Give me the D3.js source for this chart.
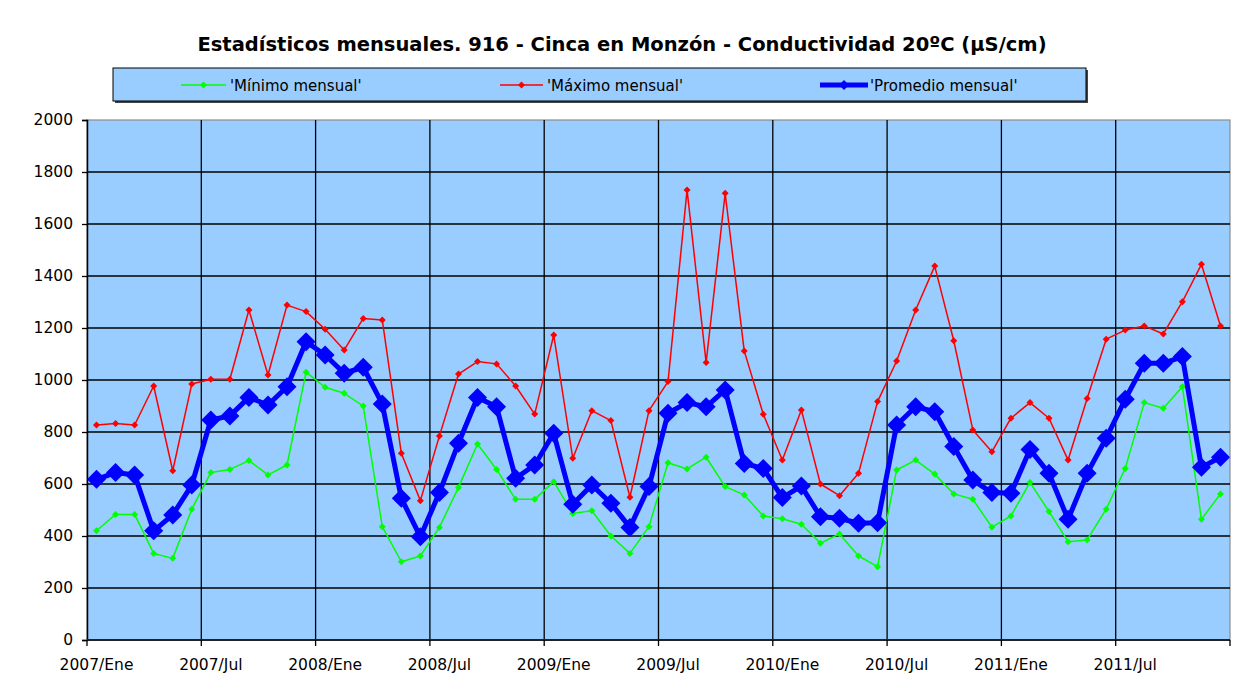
<!DOCTYPE html>
<html><head><meta charset="utf-8">
<script src="https://cdn.jsdelivr.net/npm/d3@7"></script>
<style>body{margin:0;background:#fff}svg{display:block}</style>
</head><body>
<svg id="c" width="1241" height="700"></svg>
<script>
const years = [2007, 2008, 2009, 2010, 2011];
const monthNames = ["Ene","Feb","Mar","Abr","May","Jun","Jul","Ago","Sep","Oct","Nov","Dic"];
const categories = years.flatMap(y => monthNames.map(m => y + "/" + m));

const minimo = [420,483,483,333,314,503,644,656,690,635,673,1030,
  972,949,900,436,301,323,433,587,754,656,541,541,
  609,487,497,400,333,436,682,658,703,590,558,477,
  466,445,372,408,323,282,654,692,638,562,541,434,
  477,606,494,378,385,503,660,913,891,974,464,562];
const maximo = [827,833,827,977,651,985,1003,1003,1269,1019,1288,1263,
  1195,1115,1237,1231,718,536,785,1023,1071,1062,977,869,
  1173,699,882,844,549,882,994,1731,1067,1718,1112,868,
  692,885,600,555,641,917,1073,1269,1438,1151,808,724,
  853,913,853,692,929,1157,1192,1208,1177,1301,1445,1208];
const promedio = [618,644,635,420,481,596,846,862,933,904,974,1147,
  1096,1026,1049,908,545,397,567,757,933,897,622,673,
  795,522,596,526,433,590,872,913,897,962,679,660,
  548,592,474,468,449,451,827,897,878,744,615,567,
  564,733,641,464,641,776,926,1064,1064,1090,664,703];
const yTicks = [0,200,400,600,800,1000,1200,1400,1600,1800,2000];
const seriesNames = ["'Mínimo mensual'", "'Máximo mensual'", "'Promedio mensual'"];
const title = "Estadísticos mensuales. 916 - Cinca en Monzón - Conductividad 20ºC (µS/cm)";

const svg = d3.select("#c");
const font = "'DejaVu Sans',sans-serif";
const L = 87, R = 1230, T = 120, B = 640;
const x = d3.scaleBand().domain(categories).range([L, R]).padding(0);
const y = d3.scaleLinear().domain([0, 2000]).range([B, T]);
const cx = d => x(d) + x.bandwidth() / 2;

// plot area
svg.append("rect").attr("x", L).attr("y", T).attr("width", R - L).attr("height", B - T)
  .attr("fill", "#99CCFF").attr("stroke", "#8c8c8c").attr("stroke-width", 1.2);

// horizontal gridlines
svg.append("g").selectAll("line").data(yTicks.filter(v => v > 0 && v < 2000)).join("line")
  .attr("x1", L).attr("x2", R).attr("y1", d => y(d)).attr("y2", d => y(d))
  .attr("stroke", "#000").attr("stroke-width", 1.3);

// vertical gridlines at 6 month boundaries
const sixIdx = d3.range(6, 60, 6);
svg.append("g").selectAll("line").data(sixIdx).join("line")
  .attr("x1", i => x(categories[i])).attr("x2", i => x(categories[i]))
  .attr("y1", T).attr("y2", B).attr("stroke", "#000").attr("stroke-width", 1.3);

// y axis
const yAxis = svg.append("g").attr("transform", `translate(${L},0)`)
  .call(d3.axisLeft(y).tickValues(yTicks).tickSize(5).tickPadding(9).tickFormat(d3.format("d")));
yAxis.select(".domain").attr("stroke", "#000").attr("stroke-width", 1.5);
yAxis.selectAll(".tick line").attr("stroke", "#000").attr("stroke-width", 1.3);
yAxis.selectAll("text").attr("font-family", font).attr("font-size", 15.5).attr("fill", "#000");

// x axis
svg.append("line").attr("x1", L).attr("x2", R).attr("y1", B).attr("y2", B)
  .attr("stroke", "#222").attr("stroke-width", 2);
const xTickIdx = d3.range(0, 61, 6);
svg.append("g").selectAll("line").data(xTickIdx).join("line")
  .attr("x1", i => i < 60 ? x(categories[i]) : R).attr("x2", i => i < 60 ? x(categories[i]) : R)
  .attr("y1", B).attr("y2", B + 6).attr("stroke", "#000").attr("stroke-width", 1.3);
const xAxis = svg.append("g").attr("transform", `translate(0,${B})`)
  .call(d3.axisBottom(x).tickValues(categories.filter((c, i) => i % 6 === 0)).tickSize(0).tickPadding(19));
xAxis.select(".domain").remove();
xAxis.selectAll("text").attr("font-family", font).attr("font-size", 15.5).attr("fill", "#000");

// series
const diamond = (s) => `M0,${-s}L${s},0L0,${s}L${-s},0Z`;
const series = [
  {name: seriesNames[0], vals: minimo, color: "#00FF00", w: 1.5, m: 3.5},
  {name: seriesNames[1], vals: maximo, color: "#FF0000", w: 1.5, m: 3.5},
  {name: seriesNames[2], vals: promedio, color: "#0000FF", w: 5, m: 9.5}
];
const line = d3.line().x((d, i) => cx(categories[i])).y(d => y(d));
series.forEach(s => {
  const g = svg.append("g");
  g.append("path").datum(s.vals).attr("d", line).attr("fill", "none")
    .attr("stroke", s.color).attr("stroke-width", s.w).attr("stroke-linejoin", "round");
  g.selectAll("path.m").data(s.vals).join("path").attr("class", "m")
    .attr("transform", (d, i) => `translate(${cx(categories[i])},${y(d)})`)
    .attr("d", diamond(s.m)).attr("fill", s.color);
});

// title
svg.append("text").attr("x", 622).attr("y", 51).attr("text-anchor", "middle")
  .attr("font-family", font).attr("font-weight", "bold").attr("font-size", 19.5).attr("fill", "#000")
  .text(title);

// legend
svg.append("rect").attr("x", 115).attr("y", 70).attr("width", 973).attr("height", 33).attr("fill", "#444");
svg.append("rect").attr("x", 113).attr("y", 68).attr("width", 973).attr("height", 33)
  .attr("fill", "#99CCFF").attr("stroke", "#000").attr("stroke-width", 1);
const legPos = [{x1: 181, x2: 226, tx: 230}, {x1: 500, x2: 543, tx: 547}, {x1: 820, x2: 868, tx: 870}];
series.forEach((s, k) => {
  const p = legPos[k], ly = 85;
  svg.append("line").attr("x1", p.x1).attr("x2", p.x2).attr("y1", ly).attr("y2", ly)
    .attr("stroke", s.color).attr("stroke-width", s.w);
  svg.append("path").attr("transform", `translate(${(p.x1 + p.x2) / 2},${ly})`)
    .attr("d", diamond(k === 2 ? 5 : 3.5)).attr("fill", s.color);
  svg.append("text").attr("x", p.tx).attr("y", ly + 5.5).attr("font-family", font)
    .attr("font-size", 15).attr("fill", "#000").text(s.name);
});
</script>
</body></html>
